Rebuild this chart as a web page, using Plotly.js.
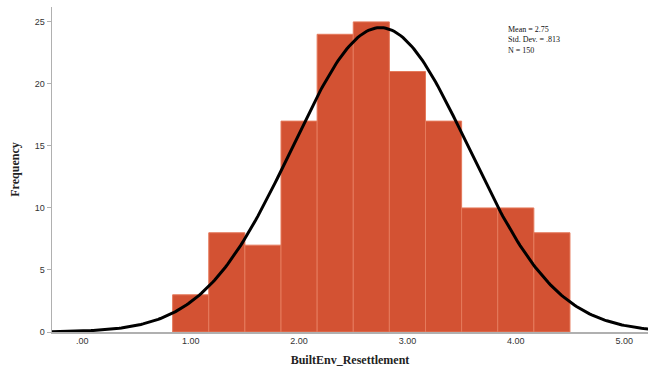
<!DOCTYPE html>
<html>
<head>
<meta charset="utf-8">
<script src="https://cdn.plot.ly/plotly-3.0.1.min.js"></script>
<style>
  html, body { margin: 0; padding: 0; background: #fff; }
  #chart { width: 648px; height: 372px; }
</style>
</head>
<body>
<div id="chart"></div>
<script>
// Histogram bins (left edges), bin width and counts
const binStarts = [0.8333, 1.1667, 1.5, 1.8333, 2.1667, 2.5, 2.8333, 3.1667, 3.5, 3.8333, 4.1667];
const binWidth = 1 / 3;
const counts = [3, 8, 7, 17, 24, 25, 21, 17, 10, 10, 8];

// Summary statistics shown in the box
const mean = 2.75;
const stdDev = 0.813;
const nCases = 150;

const xTickVals = [0, 1, 2, 3, 4, 5];
const xTickText = ['.00', '1.00', '2.00', '3.00', '4.00', '5.00'];
const yTickVals = [0, 5, 10, 15, 20, 25];

const binCenters = binStarts.map(s => s + binWidth / 2);

// Normal curve scaled to counts per bin
const curveX = [];
const curveY = [];
for (let x = -0.3; x <= 5.3; x += 0.02) {
  const z = (x - mean) / stdDev;
  curveX.push(x);
  curveY.push(nCases * binWidth * Math.exp(-0.5 * z * z) / (stdDev * Math.sqrt(2 * Math.PI)));
}

const bars = {
  type: 'bar',
  x: binCenters,
  y: counts,
  width: binWidth,
  marker: { color: '#D35233', line: { color: '#E57A5C', width: 1 } },
  hoverinfo: 'x+y'
};

const curve = {
  type: 'scatter',
  mode: 'lines',
  x: curveX,
  y: curveY,
  line: { color: '#000', width: 3 },
  hoverinfo: 'skip'
};

const layout = {
  width: 648,
  height: 372,
  margin: { l: 52, r: 0, t: 7, b: 40 },
  paper_bgcolor: '#fff',
  plot_bgcolor: '#fff',
  showlegend: false,
  bargap: 0,
  xaxis: {
    range: [-0.28, 5.22],
    tickvals: xTickVals,
    ticktext: xTickText,
    showgrid: false,
    zeroline: false,
    showline: true,
    linecolor: '#b0b0b0',
    linewidth: 1.5,
    ticks: '',
    tickfont: { family: 'Liberation Sans, Arial, sans-serif', size: 9, color: '#333' },
    title: {
      text: '<b>BuiltEnv_Resettlement</b>',
      font: { family: 'Liberation Serif, Times New Roman, serif', size: 12, color: '#222' },
      standoff: 10
    }
  },
  yaxis: {
    range: [0, 26.2],
    tickvals: yTickVals,
    showgrid: false,
    zeroline: false,
    showline: true,
    linecolor: '#b0b0b0',
    linewidth: 1.5,
    ticks: 'outside',
    ticklen: 4,
    tickcolor: '#b0b0b0',
    tickfont: { family: 'Liberation Sans, Arial, sans-serif', size: 9, color: '#333' },
    title: {
      text: '<b>Frequency</b>',
      font: { family: 'Liberation Serif, Times New Roman, serif', size: 12, color: '#222' },
      standoff: 12
    }
  },
  annotations: [{
    xref: 'paper', yref: 'paper',
    x: 0.762, y: 0.95,
    xanchor: 'left', yanchor: 'top',
    align: 'left',
    showarrow: false,
    text: 'Mean = ' + mean.toFixed(2) + '<br>Std. Dev. = .' + String(Math.round(stdDev * 1000)) + '<br>N = ' + nCases,
    font: { family: 'Liberation Serif, Times New Roman, serif', size: 8, color: '#111' }
  }]
};

Plotly.newPlot('chart', [bars, curve], layout, { displayModeBar: false, staticPlot: true });
</script>
</body>
</html>
